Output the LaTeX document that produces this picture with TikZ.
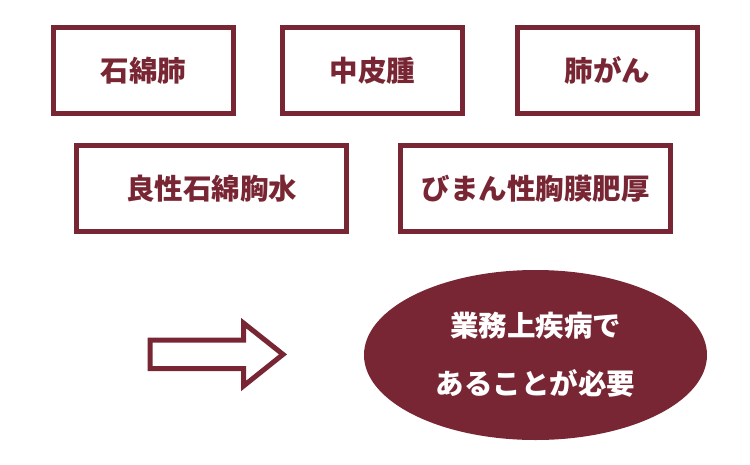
\documentclass[tikz,border=0pt]{standalone}
\usepackage{fontspec}
\setmainfont{Noto Sans CJK JP}
\usetikzlibrary{shapes.geometric}
\definecolor{wine}{RGB}{120,38,52}

\begin{document}
\begin{tikzpicture}[x=1pt,y=-1pt,node distance=230pt,
	disease/.style={draw=wine,line width=5pt,text=wine,minimum width=180pt,minimum height=85.5pt,font=\bfseries\fontsize{28.5pt}{32pt}\selectfont},
	widedisease/.style={disease,minimum width=270pt},
	verdict/.style={ellipse,fill=wine,text=white,minimum width=343pt,minimum height=170pt,inner sep=0pt,align=center,font=\bfseries\fontsize{28.5pt}{58pt}\selectfont}]
	
	\useasboundingbox (0,0) rectangle (750,464);
	
	\node[disease] (asbestosis) at (143.5,70.3) {石綿肺};
	\node[disease] (mesothelioma) [right of=asbestosis,node distance=229pt] {中皮腫};
	\node[disease] (lungcancer) [right of=mesothelioma,node distance=235pt] {肺がん};
	\node[widedisease] (effusion) at (211.5,188.3) {良性石綿胸水};
	\node[widedisease] (thickening) [right of=effusion,node distance=324pt] {びまん性胸膜肥厚};
	\node[verdict] (occupational) [below of=thickening,node distance=166.7pt] {業務上疾病で\\あることが必要};
	
	% block arrow
	\draw[wine,line width=5pt] (150,340) -- (243.5,340) -- (243.5,323) -- (283,354.4)
	      -- (243.5,386) -- (243.5,368.7) -- (150,368.7) -- cycle;
\end{tikzpicture}
\end{document}
